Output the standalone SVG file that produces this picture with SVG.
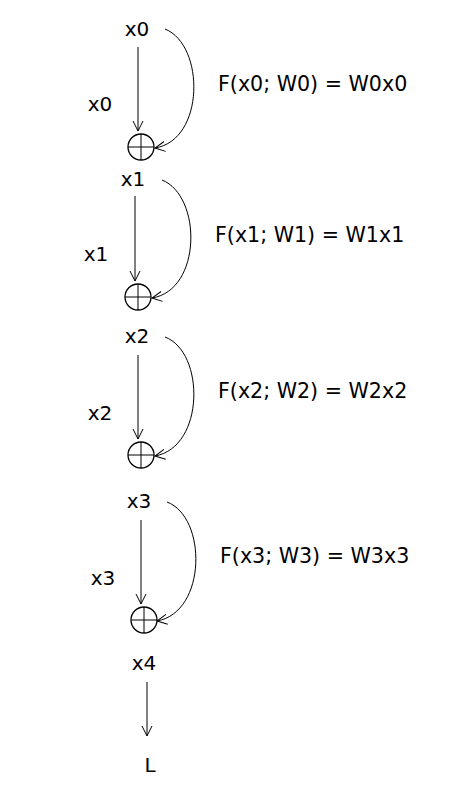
<svg xmlns="http://www.w3.org/2000/svg" width="468" height="785" viewBox="0 0 468 785">
<style>
text{font-family:"DejaVu Sans","Liberation Sans",sans-serif;font-size:20px;fill:#000}
.c{text-anchor:middle}
.f{font-size:20.6px}
.e{stroke:#000;stroke-width:1;fill:none}
.s{stroke:#000;stroke-width:1.3;fill:#fff}
</style>
<defs>
<marker id="a" markerUnits="userSpaceOnUse" markerWidth="12" markerHeight="12" refX="10" refY="5" orient="auto" viewBox="0 0 12 10">
<path d="M0,0 L10,5 L0,10" fill="none" stroke="#000" stroke-width="1"/>
</marker>
<g id="sum"><circle r="13" class="s"/><path d="M-13,0H13M0,-13V13" class="e" stroke-width="1.3"/></g>
</defs>
<rect width="468" height="785" fill="#fff"/>
<g id="connectors">
<line x1="138" y1="47" x2="138" y2="131" class="e" marker-end="url(#a)"/>
<path d="M165,29 C205,45 205,140 155,148" class="e" marker-end="url(#a)"/>
<line x1="135" y1="196" x2="135" y2="281" class="e" marker-end="url(#a)"/>
<path d="M162,180 C202,196 202,290 152,298" class="e" marker-end="url(#a)"/>
<line x1="138" y1="355" x2="138" y2="439" class="e" marker-end="url(#a)"/>
<path d="M165,337 C205,352 205,447 155,456" class="e" marker-end="url(#a)"/>
<line x1="141" y1="520" x2="141" y2="604" class="e" marker-end="url(#a)"/>
<path d="M167,502 C207,517 207,612 157,621" class="e" marker-end="url(#a)"/>
<line x1="147" y1="682" x2="147" y2="736" class="e" marker-end="url(#a)"/>
</g>
<g id="block0">
<text x="137" y="36" class="c">x0</text>
<text x="100" y="111" class="c">x0</text>
<text x="218" y="91" class="f">F(x0; W0) = W0x0</text>
<use href="#sum" x="141" y="147"/>
</g>
<g id="block1">
<text x="133" y="186" class="c">x1</text>
<text x="96" y="261" class="c">x1</text>
<text x="215" y="242" class="f">F(x1; W1) = W1x1</text>
<use href="#sum" x="138" y="297"/>
</g>
<g id="block2">
<text x="137" y="343" class="c">x2</text>
<text x="100" y="420" class="c">x2</text>
<text x="218" y="398" class="f">F(x2; W2) = W2x2</text>
<use href="#sum" x="141" y="455"/>
</g>
<g id="block3">
<text x="139" y="508" class="c">x3</text>
<text x="103" y="585" class="c">x3</text>
<text x="220" y="563" class="f">F(x3; W3) = W3x3</text>
<use href="#sum" x="144" y="620"/>
</g>
<g id="block4">
<text x="144" y="670" class="c">x4</text>
<text x="150" y="772" class="c">L</text>
</g>
</svg>
